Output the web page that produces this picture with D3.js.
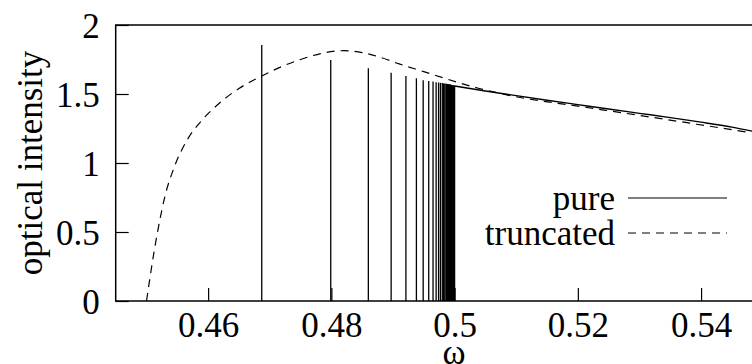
<!DOCTYPE html>
<html>
<head>
<meta charset="utf-8">
<script src="https://cdn.jsdelivr.net/npm/d3@7"></script>
<style>
  body { margin: 0; background: #fff; }
  svg { display: block; }
</style>
</head>
<body>
<div id="chart"></div>
<script>
// spectral lines of the pure system (position, height)
var lineOmega = [0.4687, 0.4799, 0.4860, 0.4897, 0.4921, 0.4938, 0.4949, 0.4958, 0.4965, 0.4970,
  0.4974, 0.4977, 0.4980, 0.4982, 0.4984, 0.4986, 0.4987, 0.4988, 0.4989, 0.4990,
  0.4991, 0.4992, 0.4993, 0.4994, 0.4995, 0.4996, 0.4997, 0.4998, 0.4999, 0.5000];
var lineHeight = [1.855, 1.746, 1.686, 1.654, 1.630, 1.614, 1.600, 1.595, 1.590, 1.586,
  1.583, 1.581, 1.579, 1.577, 1.576, 1.575, 1.574, 1.573, 1.572, 1.571,
  1.570, 1.569, 1.568, 1.567, 1.566, 1.565, 1.564, 1.563, 1.562, 1.560];

// continuum of the pure system
var pureOmega = [0.500, 0.505, 0.510, 0.515, 0.520, 0.525, 0.530, 0.535, 0.540, 0.545, 0.550];
var pureValue = [1.558, 1.522, 1.488, 1.455, 1.423, 1.391, 1.360, 1.329, 1.296, 1.260, 1.215];

// truncated curve
var truncOmega = [0.4500, 0.4505, 0.4512, 0.4520, 0.4530, 0.4545, 0.4565, 0.4590, 0.4620, 0.4650,
  0.4687, 0.4720, 0.4750, 0.4785, 0.4820, 0.4850, 0.4880, 0.4910, 0.4950, 0.4990,
  0.5040, 0.5100, 0.5200, 0.5300, 0.5393, 0.5481];
var truncValue = [0.000, 0.150, 0.350, 0.550, 0.760, 0.970, 1.160, 1.310, 1.440, 1.540,
  1.630, 1.700, 1.750, 1.795, 1.814, 1.800, 1.765, 1.718, 1.662, 1.605,
  1.540, 1.480, 1.412, 1.345, 1.281, 1.219];

var xTicks = [0.46, 0.48, 0.5, 0.52, 0.54];
var yTicks = [0, 0.5, 1, 1.5, 2];

var width = 752, height = 364;
var plotLeft = 115.7, plotRight = 762.7, plotTop = 25, plotBottom = 301;

var fs = 35;
var serif = "'Liberation Serif', serif";

var svg = d3.select("#chart").append("svg")
  .attr("width", width)
  .attr("height", height);

var x = d3.scaleLinear().domain([0.445, 0.55]).range([plotLeft, plotRight]);
var y = d3.scaleLinear().domain([0, 2]).range([plotBottom, plotTop]);

// axes (ticks pointing inward)
var xAxis = svg.append("g")
  .attr("transform", "translate(0," + plotBottom + ")")
  .call(d3.axisBottom(x).tickValues(xTicks).tickSizeInner(-13).tickSizeOuter(0)
    .tickPadding(22).tickFormat(function(d) { return String(d); }));
var yAxis = svg.append("g")
  .attr("transform", "translate(" + plotLeft + ",0)")
  .call(d3.axisLeft(y).tickValues(yTicks).tickSizeInner(-13).tickSizeOuter(0)
    .tickPadding(16).tickFormat(function(d) { return String(d); }));

svg.selectAll("g").attr("font-family", null).attr("font-size", null);
svg.selectAll(".tick text")
  .style("font-family", serif)
  .style("font-size", fs + "px")
  .attr("fill", "black");
svg.selectAll(".domain").remove();
svg.selectAll(".tick line").attr("stroke", "black").attr("stroke-width", 1.2);
yAxis.selectAll(".tick text").attr("dy", "0.36em");
xAxis.selectAll(".tick text").attr("dy", "0.71em").attr("y", 11);

// border
svg.append("rect")
  .attr("x", plotLeft).attr("y", plotTop)
  .attr("width", plotRight - plotLeft).attr("height", plotBottom - plotTop)
  .attr("fill", "none").attr("stroke", "black").attr("stroke-width", 1.5);

// spectral lines
svg.append("g").selectAll("line")
  .data(lineOmega)
  .enter().append("line")
  .attr("x1", function(d) { return x(d); })
  .attr("x2", function(d) { return x(d); })
  .attr("y1", y(0))
  .attr("y2", function(d, i) { return y(lineHeight[i]); })
  .attr("stroke", "black")
  .attr("stroke-width", 1.3);

var pureData = pureOmega.map(function(d, i) { return [d, pureValue[i]]; });
var truncData = truncOmega.map(function(d, i) { return [d, truncValue[i]]; });

var line = d3.line()
  .x(function(d) { return x(d[0]); })
  .y(function(d) { return y(d[1]); })
  .curve(d3.curveMonotoneX);

svg.append("path")
  .datum(pureData)
  .attr("fill", "none")
  .attr("stroke", "black")
  .attr("stroke-width", 1.4)
  .attr("d", line);

svg.append("path")
  .datum(truncData)
  .attr("fill", "none")
  .attr("stroke", "black")
  .attr("stroke-width", 1.2)
  .attr("stroke-dasharray", "8,6")
  .attr("d", line);

// legend
var legend = [
  { name: "pure", dash: null, yy: 198 },
  { name: "truncated", dash: "8,6", yy: 233 }
];
legend.forEach(function(l) {
  svg.append("text")
    .attr("x", 615).attr("y", l.yy)
    .attr("dy", "0.33em")
    .attr("text-anchor", "end")
    .style("font-family", serif)
    .style("font-size", fs + "px")
    .text(l.name);
  svg.append("line")
    .attr("x1", 628).attr("x2", 727)
    .attr("y1", l.yy).attr("y2", l.yy)
    .attr("stroke", "black")
    .attr("stroke-width", 1.2)
    .attr("stroke-dasharray", l.dash);
});

// axis titles
svg.append("text")
  .attr("transform", "translate(42," + ((plotTop + plotBottom) / 2) + ") rotate(-90)")
  .attr("text-anchor", "middle")
  .style("font-family", serif)
  .style("font-size", fs + "px")
  .text("optical intensity");

svg.append("text")
  .attr("x", 454).attr("y", 364)
  .attr("text-anchor", "middle")
  .style("font-family", serif)
  .style("font-size", fs + "px")
  .text("ω");
</script>
</body>
</html>
